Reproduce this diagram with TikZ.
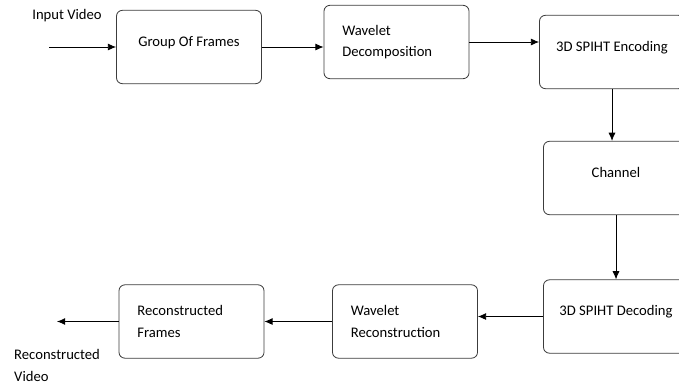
\documentclass[tikz,border=0pt]{standalone}
\usepackage{fontspec}
\setmainfont{Carlito}
\usepackage{tikz}
\usetikzlibrary{arrows,arrows.meta}
\definecolor{boxline}{RGB}{60,60,60}

\begin{document}
\begin{tikzpicture}[x=0.03cm, y=-0.03cm]
    \tikzset{ blk/.style={draw=boxline, rounded corners=5pt, line width=0.7pt, minimum width=4.35cm, minimum height=2.2cm, font=\fontsize{12.5}{18.5}\selectfont, text=black } }
    \tikzset{ blkt/.style={blk, text depth=0.35cm} }
    \tikzset{ blkl/.style={blk, align=left, text width=3.25cm} }
    \tikzset{ flow/.style={-{Latex[length=7pt,width=6pt]}, line width=0.7pt, black} }

    \clip (0,0) rectangle (679,387);

    \node[blkt] (gof)  at (189.0, 47.0)  {Group Of Frames};
    \node[blkl] (wd)   at (396.5, 42.0)  {Wavelet\\Decomposition};
    \node[blkt] (enc)  at (612.0, 52.0)  {3D SPIHT Encoding};
    \node[blkt] (chan) at (616.0, 178.0) {Channel};
    \node[blkt] (dec)  at (616.0, 316.5) {3D SPIHT Decoding};
    \node[blkl] (wr)   at (405.0, 321.5) {Wavelet\\Reconstruction};
    \node[blkl] (rf)   at (191.5, 321.5) {Reconstructed\\Frames};

    \coordinate (vin)  at (49, 47);
    \coordinate (vout) at (57, 321.5);
    \node[font=\fontsize{12.5}{18.5}\selectfont] (lin) at (67, 16) {Input Video};
    \node[font=\fontsize{12.5}{18.5}\selectfont, align=left, anchor=north west, inner sep=0pt] (lout) at (14, 349) {Reconstructed\\Video};

    \draw[flow] (vin) -- (gof);
    \draw[flow] (gof.east) -- (gof.east -| wd.west);
    \draw[flow] (wd.east) -- (wd.east -| enc.west);
    \draw[flow] (enc.south) -- (enc.south |- chan.north);
    \draw[flow] (chan.south) -- (chan.south |- dec.north);
    \draw[flow] (dec.west) -- (dec.west -| wr.east);
    \draw[flow] (wr.west) -- (wr.west -| rf.east);
    \draw[flow] (rf.west) -- (vout);
\end{tikzpicture}
\end{document}
